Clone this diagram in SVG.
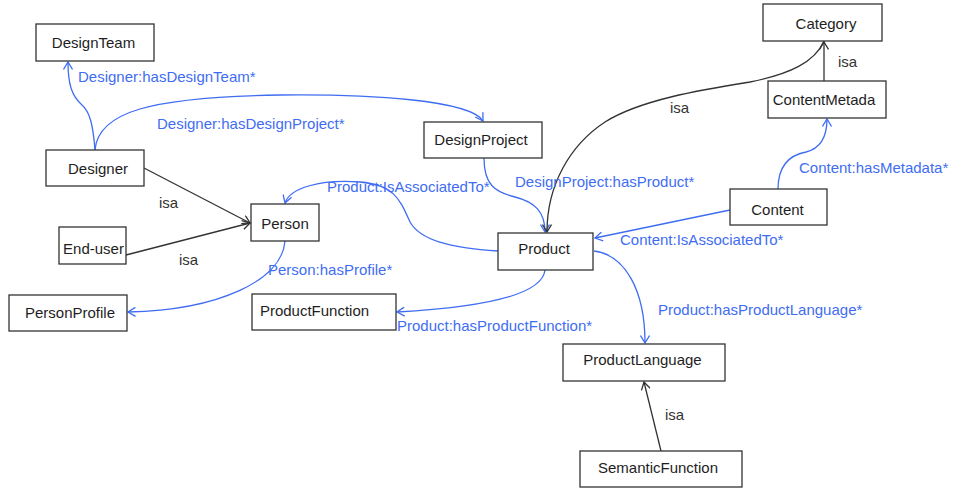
<svg xmlns="http://www.w3.org/2000/svg" width="954" height="488" viewBox="0 0 954 488">
  <defs>
    <marker id="arrow-blue" viewBox="0 0 10 10" refX="8.5" refY="5" markerWidth="10" markerHeight="10" markerUnits="userSpaceOnUse" orient="auto">
      <path d="M1,0.5 L8.5,5 L1,9.5" fill="none" stroke="#3f6df2" stroke-width="1.3"/>
    </marker>
    <marker id="arrow-black" viewBox="0 0 10 10" refX="8.5" refY="5" markerWidth="10" markerHeight="10" markerUnits="userSpaceOnUse" orient="auto">
      <path d="M1,0.5 L8.5,5 L1,9.5" fill="none" stroke="#333333" stroke-width="1.3"/>
    </marker>
    <style>
      .box { fill: #ffffff; stroke: #333333; stroke-width: 1.3; }
      .name { font-family: "Liberation Sans", Arial, sans-serif; font-size: 15px; fill: #1e1e1e; text-anchor: middle; }
      .rel { fill: none; stroke: #3f6df2; stroke-width: 1.3; marker-end: url(#arrow-blue); }
      .isa { fill: none; stroke: #333333; stroke-width: 1.3; marker-end: url(#arrow-black); }
      .rel-label { font-family: "Liberation Sans", Arial, sans-serif; font-size: 15px; fill: #3f6df2; }
      .isa-label { font-family: "Liberation Sans", Arial, sans-serif; font-size: 15px; fill: #333333; }
    </style>
  </defs>

  <rect width="954" height="488" fill="#ffffff"/>

  <!-- connectors -->
  <g id="connectors">
    <!-- property relations -->
    <path class="rel" d="M95,150 C93,125 90,112 82,105 C72,96 68,85 68,62"/>
    <path class="rel" d="M95,150 C98,112 150,97 280,95 C370,94 470,100 483,121"/>
    <path class="rel" d="M484,158 C484,185 495,192 515,197 C535,202 545,212 545,232"/>
    <path class="rel" d="M498,251 C450,248 420,240 410,222 C400,200 395,185 360,182 C320,179 290,188 285,203"/>
    <path class="rel" d="M285,241 C282,280 220,310 128,312"/>
    <path class="rel" d="M545,270 C542,298 470,308 397,312"/>
    <path class="rel" d="M594,251 C625,255 645,290 645,343"/>
    <path class="rel" d="M730,210 L595,238"/>
    <path class="rel" d="M778,189 C778,165 790,155 806,152 C822,148 827,135 827,119"/>

    <!-- isa relations -->
    <path class="isa" d="M824,41 C815,62 790,74 750,82 C700,90 640,100 605,122 C570,145 547,185 547,232"/>
    <path class="isa" d="M824,81 L824,42"/>
    <path class="isa" d="M144,168 L250,223"/>
    <path class="isa" d="M126,255 L250,223"/>
    <path class="isa" d="M661,451 L644,382"/>

    <!-- labels -->
    <text class="rel-label" x="78" y="82">Designer:hasDesignTeam*</text>
    <text class="rel-label" x="157" y="129">Designer:hasDesignProject*</text>
    <text class="rel-label" x="327" y="192">Product:IsAssociatedTo*</text>
    <text class="rel-label" x="515" y="187">DesignProject:hasProduct*</text>
    <text class="rel-label" x="799" y="173">Content:hasMetadata*</text>
    <text class="rel-label" x="620" y="245">Content:IsAssociatedTo*</text>
    <text class="rel-label" x="268" y="275">Person:hasProfile*</text>
    <text class="rel-label" x="397" y="331">Product:hasProductFunction*</text>
    <text class="rel-label" x="658" y="315">Product:hasProductLanguage*</text>
    <text class="isa-label" x="670" y="113">isa</text>
    <text class="isa-label" x="838" y="67">isa</text>
    <text class="isa-label" x="159" y="208">isa</text>
    <text class="isa-label" x="179" y="265">isa</text>
    <text class="isa-label" x="665" y="420">isa</text>
  </g>

  <!-- nodes -->
  <g id="DesignTeam"><rect class="box" x="36" y="24" width="118" height="37"/><text class="name" x="93.5" y="48">DesignTeam</text></g>
  <g id="Designer"><rect class="box" x="46" y="150" width="98" height="36"/><text class="name" x="98" y="174">Designer</text></g>
  <g id="DesignProject"><rect class="box" x="424" y="122" width="118" height="36"/><text class="name" x="481" y="145">DesignProject</text></g>
  <g id="Person"><rect class="box" x="251" y="204" width="68" height="37"/><text class="name" x="285" y="229">Person</text></g>
  <g id="End-user"><rect class="box" x="59" y="227" width="67" height="37"/><text class="name" x="93.5" y="254">End-user</text></g>
  <g id="PersonProfile"><rect class="box" x="9" y="295" width="118" height="36"/><text class="name" x="70" y="318">PersonProfile</text></g>
  <g id="ProductFunction"><rect class="box" x="252" y="294" width="144" height="36"/><text class="name" x="314.5" y="316">ProductFunction</text></g>
  <g id="Product"><rect class="box" x="498" y="233" width="95" height="37"/><text class="name" x="544" y="254">Product</text></g>
  <g id="Category"><rect class="box" x="763" y="4" width="119" height="37"/><text class="name" x="826" y="29">Category</text></g>
  <g id="ContentMetada"><rect class="box" x="768" y="81" width="118" height="37"/><text class="name" x="824" y="105">ContentMetada</text></g>
  <g id="Content"><rect class="box" x="730" y="189" width="97" height="36"/><text class="name" x="777.5" y="215">Content</text></g>
  <g id="ProductLanguage"><rect class="box" x="563" y="344" width="162" height="37"/><text class="name" x="642.5" y="365">ProductLanguage</text></g>
  <g id="SemanticFunction"><rect class="box" x="580" y="451" width="162" height="36"/><text class="name" x="658" y="473">SemanticFunction</text></g>
</svg>
